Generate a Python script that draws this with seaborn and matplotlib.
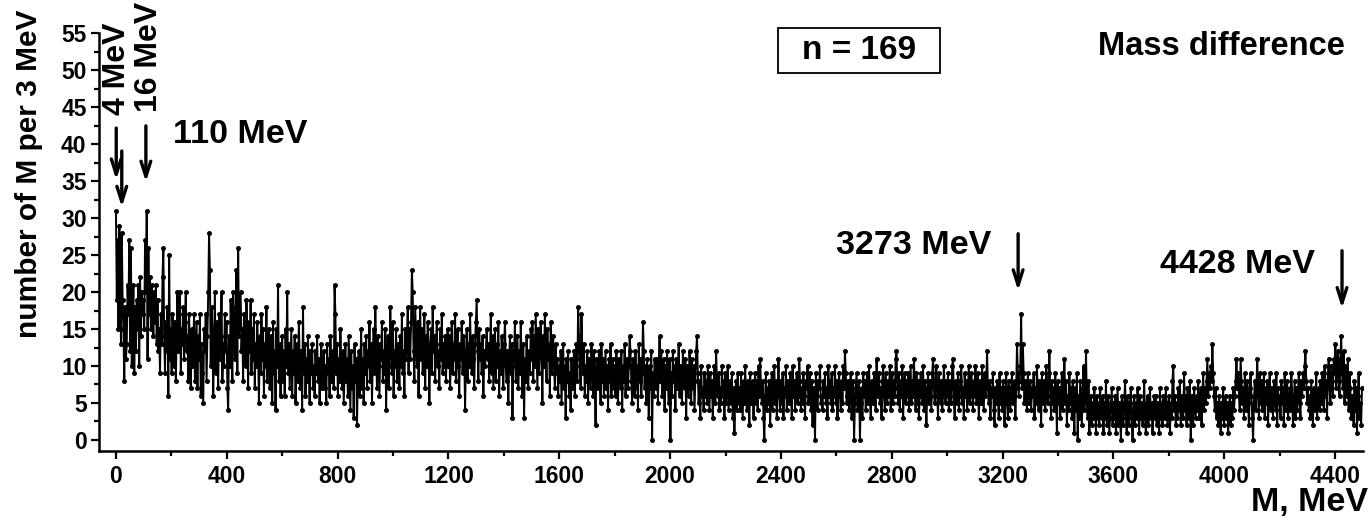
import numpy as np
import pandas as pd
import matplotlib
matplotlib.use("Agg")
import matplotlib.pyplot as plt
import matplotlib.patches as mpatches
import seaborn as sns

# ---------------- data (counts per 3 MeV bin) ----------------
BIN_WIDTH = 3  # MeV

counts_0_750 = [
    31, 19, 27, 15, 29, 26, 13, 28, 19, 15, 8, 18, 11, 13, 21, 17, 27, 12, 26, 10, 16, 21, 9, 18, 12, 19, 15, 21, 10, 22, 14, 20, 17, 19, 15, 27, 20, 31, 11, 26, 17, 22, 15, 21, 18, 14, 20, 16, 21, 13,
    19, 12, 15, 9, 17, 13, 22, 26, 14, 9, 16, 12, 18, 6, 25, 11, 15, 9, 17, 13, 10, 16, 8, 14, 20, 12, 17, 20, 9, 15, 13, 18, 11, 16, 20, 12, 14, 8, 17, 11, 7, 15, 10, 13, 17, 8, 12, 16, 7, 14,
    11, 17, 6, 13, 9, 5, 15, 12, 17, 8, 14, 20, 28, 23, 10, 18, 15, 6, 13, 20, 9, 16, 12, 7, 17, 11, 14, 20, 8, 13, 10, 17, 12, 16, 7, 4, 14, 10, 19, 13, 8, 20, 15, 11, 18, 23, 9, 26, 14, 17,
    20, 12, 15, 8, 17, 13, 10, 19, 14, 7, 16, 12, 19, 9, 15, 11, 17, 7, 13, 10, 16, 12, 5, 14, 9, 17, 11, 15, 6, 13, 10, 18, 8, 12, 15, 7, 11, 14, 5, 16, 9, 12, 4, 15, 10, 21, 8, 13, 6, 11,
    14, 8, 12, 6, 15, 10, 20, 9, 13, 7, 11, 15, 6, 12, 9, 14, 5, 10, 13, 8, 16, 11, 7, 12, 4, 18, 9, 13, 6, 11, 8, 14, 10, 5, 12, 9, 13, 7, 10, 6, 12, 9, 14, 8, 11, 5, 10, 13, 7, 9,
]
counts_750_1500 = [
    12, 7, 10, 5, 13, 9, 11, 6, 14, 8, 10, 12, 7, 21, 17, 9, 13, 6, 11, 8, 15, 10, 7, 12, 5, 9, 13, 8, 11, 6, 14, 9, 4, 12, 7, 10, 3, 13, 8, 11, 2, 9, 12, 6, 10, 15, 7, 11, 5, 13,
    9, 14, 7, 12, 10, 16, 8, 13, 5, 11, 15, 9, 18, 12, 7, 14, 10, 6, 13, 11, 16, 8, 12, 9, 15, 4, 11, 14, 7, 10, 18, 13, 9, 16, 6, 12, 10, 15, 8, 13, 11, 7, 14, 10, 17, 9, 12, 6, 15, 11,
    13, 18, 9, 15, 11, 16, 23, 20, 12, 8, 18, 14, 10, 16, 6, 13, 18, 11, 15, 9, 12, 17, 7, 14, 10, 16, 13, 5, 11, 15, 9, 18, 12, 14, 8, 13, 16, 10, 12, 7, 15, 11, 17, 9, 13, 10, 14, 8, 12, 15,
    10, 14, 7, 12, 16, 9, 13, 11, 17, 8, 12, 15, 10, 6, 13, 11, 16, 9, 14, 12, 4, 11, 15, 8, 13, 10, 17, 12, 9, 14, 11, 7, 13, 16, 19, 12, 8, 15, 11, 13, 9, 14, 6, 12, 10, 12, 15, 11, 13, 8,
    12, 17, 9, 14, 7, 11, 15, 8, 13, 10, 16, 6, 12, 9, 14, 11, 7, 13, 16, 10, 8, 12, 5, 11, 14, 9, 13, 3, 10, 12, 16, 8, 11, 14, 7, 12, 9, 16, 10, 6, 13, 3, 11, 8, 14, 10, 7, 12, 9, 15,
]
counts_1500_2250 = [
    11, 16, 8, 14, 10, 17, 12, 7, 15, 9, 13, 16, 11, 5, 14, 10, 17, 12, 8, 15, 11, 13, 6, 16, 9, 12, 14, 10, 7, 13, 9, 11, 6, 10, 8, 12, 5, 9, 13, 7, 10, 3, 11, 8, 12, 6, 9, 4, 11, 7,
    9, 12, 6, 10, 13, 8, 18, 14, 11, 7, 17, 12, 9, 13, 6, 10, 8, 12, 5, 11, 9, 7, 13, 10, 6, 12, 8, 2, 11, 9, 7, 12, 10, 5, 13, 8, 11, 6, 9, 12, 7, 10, 4, 11, 8, 13, 6, 9, 11, 7,
    10, 6, 12, 8, 5, 11, 9, 7, 12, 4, 10, 8, 13, 6, 9, 11, 7, 10, 14, 12, 8, 5, 11, 9, 6, 12, 7, 10, 4, 13, 8, 11, 6, 9, 16, 12, 7, 10, 5, 11, 8, 3, 10, 7, 12, 0, 9, 6, 11, 8,
    7, 11, 5, 10, 14, 8, 12, 6, 9, 11, 4, 10, 7, 12, 8, 5, 11, 0, 9, 6, 12, 8, 10, 4, 11, 7, 9, 13, 6, 10, 8, 5, 12, 9, 7, 11, 3, 10, 8, 6, 12, 9, 5, 11, 7, 10, 4, 8, 12, 14,
    9, 5, 8, 3, 10, 6, 7, 4, 9, 6, 8, 5, 10, 7, 4, 9, 6, 8, 3, 7, 10, 5, 12, 8, 6, 9, 4, 7, 5, 10, 6, 8, 3, 9, 5, 7, 10, 4, 6, 8, 5, 9, 3, 7, 1, 6, 8, 4, 9, 5,
]
counts_2250_3000 = [
    7, 4, 9, 6, 3, 8, 5, 10, 6, 4, 8, 7, 2, 9, 5, 6, 8, 3, 7, 9, 5, 8, 4, 10, 6, 11, 7, 5, 8, 3, 0, 6, 9, 4, 7, 5, 8, 2, 6, 9, 4, 7, 10, 5, 8, 3, 6, 11, 7, 4,
    8, 5, 9, 3, 7, 6, 10, 4, 8, 6, 5, 9, 7, 3, 10, 6, 8, 4, 7, 9, 5, 6, 11, 8, 4, 7, 5, 9, 6, 3, 8, 7, 10, 5, 6, 9, 4, 8, 2, 7, 5, 0, 9, 6, 4, 8, 7, 10, 5, 6,
    4, 8, 6, 9, 5, 7, 3, 10, 6, 8, 5, 9, 4, 7, 6, 10, 5, 8, 3, 7, 9, 6, 4, 8, 5, 10, 7, 12, 9, 5, 6, 8, 4, 7, 9, 3, 6, 8, 0, 5, 7, 9, 4, 6, 8, 0, 5, 7, 3, 9,
    6, 8, 4, 7, 9, 5, 10, 6, 3, 8, 7, 5, 9, 6, 4, 11, 8, 6, 9, 5, 7, 3, 8, 10, 6, 4, 9, 7, 5, 8, 6, 10, 4, 7, 9, 5, 8, 6, 11, 12, 7, 5, 9, 4, 8, 6, 10, 3, 7, 9,
    5, 8, 6, 9, 4, 7, 10, 5, 8, 6, 11, 7, 4, 9, 5, 8, 3, 6, 9, 7, 5, 10, 4, 8, 6, 2, 7, 9, 5, 8, 6, 4, 9, 11, 7, 5, 8, 10, 6, 3, 9, 7, 5, 8, 4, 6, 10, 7, 5, 8,
]
counts_3000_3750 = [
    6, 9, 4, 8, 7, 5, 10, 11, 6, 3, 8, 7, 5, 9, 4, 6, 8, 10, 5, 7, 3, 9, 6, 8, 4, 7, 10, 5, 6, 9, 7, 4, 8, 6, 10, 5, 7, 9, 3, 6, 8, 5, 10, 7, 4, 9, 6, 8, 12, 7,
    5, 8, 3, 7, 6, 9, 4, 2, 7, 5, 8, 6, 3, 9, 5, 7, 4, 8, 6, 2, 7, 9, 5, 3, 8, 6, 4, 7, 9, 5, 6, 8, 3, 7, 13, 9, 6, 8, 10, 17, 7, 13, 9, 5, 8, 6, 4, 9, 7, 5,
    8, 4, 7, 6, 9, 3, 7, 5, 10, 6, 4, 8, 7, 2, 9, 5, 6, 8, 4, 10, 7, 5, 9, 12, 6, 3, 8, 5, 7, 4, 9, 6, 1, 8, 5, 7, 3, 6, 9, 4, 7, 11, 5, 8, 2, 6, 4, 9, 5, 7,
    3, 8, 5, 1, 7, 4, 9, 0, 6, 3, 8, 5, 2, 7, 10, 4, 6, 12, 5, 3, 8, 1, 4, 6, 2, 5, 3, 7, 4, 1, 6, 3, 5, 2, 7, 4, 3, 6, 1, 5, 3, 8, 2, 4, 6, 1, 3, 5, 7, 2,
    5, 3, 6, 1, 4, 7, 2, 5, 3, 0, 6, 4, 2, 5, 8, 3, 1, 6, 4, 2, 5, 7, 3, 0, 4, 6, 2, 5, 3, 7, 4, 1, 6, 3, 5, 2, 4, 8, 3, 1, 5, 6, 2, 4, 7, 3, 5, 1, 4, 6,
]
counts_3750_4500 = [
    3, 6, 2, 5, 4, 1, 7, 3, 5, 2, 6, 4, 3, 7, 5, 2, 4, 6, 1, 5, 3, 8, 10, 4, 6, 2, 5, 3, 7, 4, 8, 2, 6, 5, 3, 9, 4, 6, 2, 7, 5, 3, 8, 0, 6, 4, 2, 7, 5, 3,
    6, 4, 8, 3, 5, 7, 2, 6, 9, 4, 7, 5, 8, 11, 6, 9, 7, 10, 8, 13, 9, 6, 4, 7, 3, 5, 2, 6, 4, 1, 5, 3, 7, 2, 4, 6, 3, 5, 1, 4, 6, 2, 5, 3, 7, 4, 6, 8, 11, 7,
    9, 6, 4, 11, 8, 5, 7, 3, 9, 6, 4, 8, 5, 2, 7, 9, 6, 3, 0, 5, 8, 4, 7, 11, 6, 3, 9, 5, 8, 4, 6, 9, 3, 7, 5, 8, 2, 6, 9, 4, 7, 5, 3, 8, 6, 4, 9, 2, 7, 5,
    6, 3, 8, 5, 7, 2, 9, 4, 6, 8, 3, 5, 7, 4, 9, 6, 2, 5, 8, 3, 7, 4, 6, 9, 5, 3, 8, 6, 9, 7, 10, 12, 8, 5, 7, 4, 6, 3, 8, 5, 2, 7, 4, 6, 9, 3, 5, 7, 4, 8,
    5, 9, 7, 4, 10, 6, 8, 3, 9, 11, 7, 5, 10, 8, 6, 11, 9, 13, 7, 10, 12, 8, 6, 11, 14, 9, 7, 12, 5, 10, 8, 6, 11, 4, 9, 7, 3, 6, 5, 2, 8, 4, 7, 1, 6, 9, 3, 5, 2, 7,
]

x_ticks = [0, 400, 800, 1200, 1600, 2000, 2400, 2800, 3200, 3600, 4000, 4400]
y_ticks = [0, 5, 10, 15, 20, 25, 30, 35, 40, 45, 50, 55]

# annotations: (arrow x [MeV], arrow top, arrow tip)
arrow_marks = [
    (1, 42.2, 35.2),
    (21, 39.1, 31.5),
    (108, 42.5, 34.9),
    (3256, 27.9, 20.2),
    (4425, 25.6, 17.8),
]

counts = (counts_0_750 + counts_750_1500 + counts_1500_2250 +
          counts_2250_3000 + counts_3000_3750 + counts_3750_4500)
mass = np.arange(len(counts)) * BIN_WIDTH
df = pd.DataFrame({"M": mass, "count": counts})

# ---------------- style ----------------
sns.set_style("ticks")
plt.rcParams["font.family"] = ["Liberation Sans", "DejaVu Sans"]
plt.rcParams["font.weight"] = "bold"
for key in ("text.color", "axes.labelcolor", "xtick.color", "ytick.color", "axes.edgecolor"):
    plt.rcParams[key] = "black"

fig = plt.figure(figsize=(13.72, 5.2), dpi=100)
ax = fig.add_axes([0.0722, 0.1327, 0.9213, 0.8029])

sns.lineplot(data=df, x="M", y="count", ax=ax, color="black", linewidth=1.4,
             marker="o", markersize=3.6, markeredgewidth=0, estimator=None, sort=False)

ax.set_xlim(-61, 4501)
ax.set_ylim(-1.5, 55)
ax.set_xticks(x_ticks)
ax.set_xticks(np.arange(200, 4500, 400), minor=True)
ax.set_yticks(y_ticks)
ax.set_yticks(np.arange(2.5, 55, 5), minor=True)
ax.set_xticklabels([str(v) for v in x_ticks])
ax.set_yticklabels([str(v) for v in y_ticks])
for lab in ax.get_xticklabels() + ax.get_yticklabels():
    lab.set_fontsize(16.5)
    lab.set_fontweight("bold")
ax.tick_params(which="major", direction="out", length=6, width=1.6, pad=3, color="black")
ax.tick_params(axis="x", which="major", pad=4)
ax.tick_params(which="minor", direction="out", length=3.5, width=1.6, color="black")
for s in ("top", "right"):
    ax.spines[s].set_visible(False)
for s in ("left", "bottom"):
    ax.spines[s].set_linewidth(1.8)
ax.set_xlabel("")
ax.set_ylabel("")

# axis titles
fig.text(0.997, 0.004, "M, MeV", ha="right", va="bottom", fontsize=24.5, fontweight="bold")
fig.text(0.0215, 0.665, "number of M per 3 MeV", rotation=90, ha="center", va="center",
         fontsize=21.5, fontweight="bold")

# arrows
for xm, top, tip in arrow_marks:
    ax.annotate("", xy=(xm, tip), xytext=(xm, top),
                arrowprops=dict(arrowstyle="->,head_length=1.1,head_width=0.35",
                                lw=2.4, color="black", shrinkA=0, shrinkB=0))

# arrow labels
ax.text(3.6, 44.0, "4 MeV", rotation=90, ha="center", va="bottom", fontsize=23, fontweight="bold")
ax.text(119, 44.4, "16 MeV", rotation=90, ha="center", va="bottom", fontsize=23, fontweight="bold")
ax.text(447, 41.3, "110 MeV", ha="center", va="center", fontsize=24.5, fontweight="bold")
ax.text(2880, 26.3, "3273 MeV", ha="center", va="center", fontsize=24.5, fontweight="bold")
ax.text(4048, 23.7, "4428 MeV", ha="center", va="center", fontsize=24.5, fontweight="bold")

# boxed n and title
fig.patches.append(mpatches.Rectangle((0.5671, 0.8596), 0.1181, 0.0865, transform=fig.transFigure,
                                      facecolor="none", edgecolor="black", linewidth=1.3))
fig.text(0.626, 0.902, "n = 169", ha="center", va="center", fontsize=24, fontweight="bold")
fig.text(0.890, 0.910, "Mass difference", ha="center", va="center", fontsize=23.5, fontweight="bold")

fig.savefig("out.png", dpi=100)
